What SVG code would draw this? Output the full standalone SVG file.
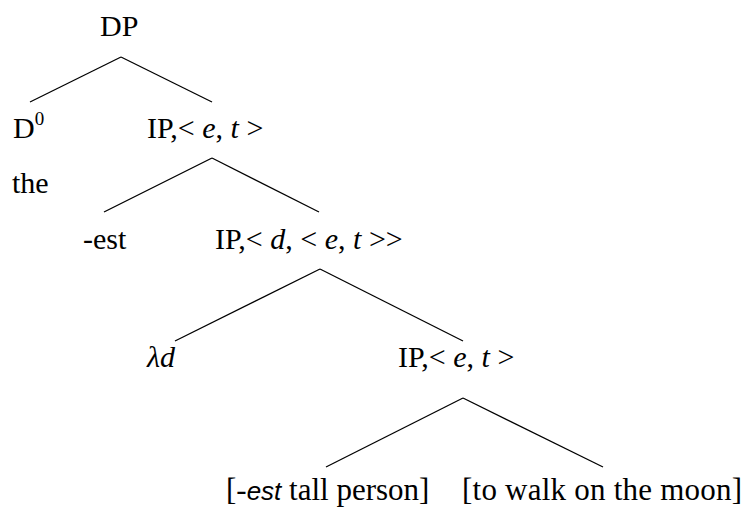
<svg xmlns="http://www.w3.org/2000/svg" width="748" height="510" viewBox="0 0 748 510">
<rect width="748" height="510" fill="#fff"/>
<g id="connectors" stroke="#000" stroke-width="1.3">
<line x1="121" y1="57" x2="30" y2="102"/>
<line x1="121" y1="57" x2="212" y2="102"/>
<line x1="212" y1="158" x2="104" y2="212"/>
<line x1="212" y1="158" x2="319" y2="212"/>
<line x1="320" y1="269" x2="175" y2="341"/>
<line x1="320" y1="269" x2="463" y2="341"/>
<line x1="463" y1="398" x2="326" y2="467"/>
<line x1="463" y1="398" x2="603" y2="467"/>
</g>
<g id="n-dp"><text style="font-family:'Liberation Serif',serif !important" font-size="30" x="100" y="36">DP</text></g>
<g id="n-d0"><text style="font-family:'Liberation Serif',serif !important" font-size="30" x="13" y="138">D<tspan font-size="19" dy="-13">0</tspan></text></g>
<g id="n-the"><text style="font-family:'Liberation Serif',serif !important" font-size="30" x="12" y="193">the</text></g>
<g id="n-ip1"><text style="font-family:'Liberation Serif',serif !important" font-size="30" x="147" y="138">IP,&lt; <tspan font-style="italic">e</tspan>, <tspan font-style="italic">t</tspan> &gt;</text></g>
<g id="n-est"><text style="font-family:'Liberation Serif',serif !important" font-size="30" x="83" y="249">-est</text></g>
<g id="n-ip2"><text style="font-family:'Liberation Serif',serif !important" font-size="30" x="215" y="249">IP,&lt; <tspan font-style="italic">d</tspan>, &lt; <tspan font-style="italic">e</tspan>, <tspan font-style="italic">t</tspan> &gt;&gt;</text></g>
<g id="n-lambda"><text style="font-family:'Liberation Serif',serif !important" font-size="30" font-style="italic" x="147" y="367">λd</text></g>
<g id="n-ip3"><text style="font-family:'Liberation Serif',serif !important" font-size="30" x="398" y="367">IP,&lt; <tspan font-style="italic">e</tspan>, <tspan font-style="italic">t</tspan> &gt;</text></g>
<g id="n-left"><text style="font-family:'Liberation Serif',serif !important" font-size="31" x="226" y="500">[-<tspan style="font-family:'Liberation Sans',sans-serif !important" font-style="italic" font-size="26">est</tspan> tall person]</text></g>
<g id="n-right"><text style="font-family:'Liberation Serif',serif !important" font-size="31" x="462" y="500" textLength="280">[to walk on the moon]</text></g>
</svg>
